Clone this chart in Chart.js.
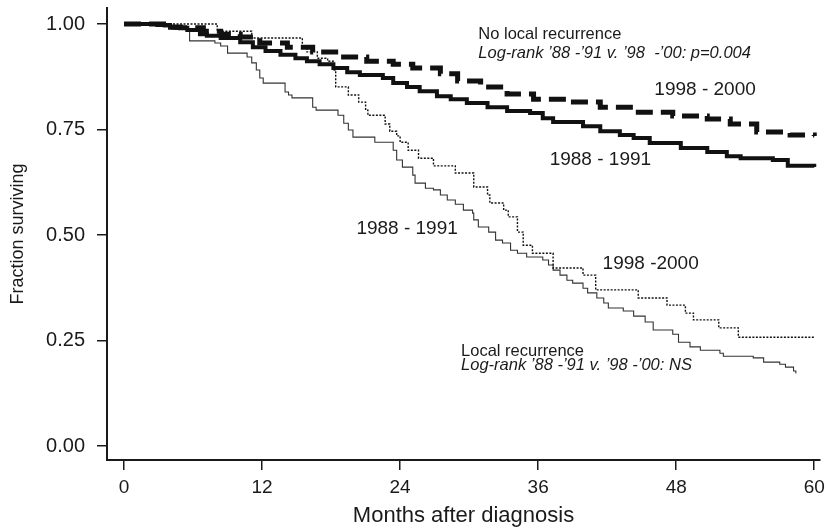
<!DOCTYPE html>
<html>
<head>
<meta charset="utf-8">
<script src="https://cdn.jsdelivr.net/npm/chart.js@4/dist/chart.umd.min.js"></script>
<style>
  html, body { margin: 0; padding: 0; background: #fff; }
  #wrap { width: 826px; height: 529px; }
</style>
</head>
<body>
<div id="wrap"><canvas id="km" width="826" height="529"></canvas></div>
<script>
// Kaplan-Meier survival estimates: month of each step and survival after it.
const noLr9800Months = [0, 3.7, 4.9, 6.9, 8.4, 10.1, 11.8, 14.2, 16.4, 18.8, 21.1, 23.4, 25.1, 27.5, 29.0, 31.0, 33.3, 35.6, 38.5, 41.4, 44.3, 47.7, 50.7, 52.7, 55.0, 57.9, 60.0];
const noLr9800Surv   = [1.000, 0.993, 0.991, 0.983, 0.976, 0.969, 0.955, 0.945, 0.934, 0.922, 0.912, 0.905, 0.896, 0.882, 0.865, 0.851, 0.834, 0.822, 0.815, 0.803, 0.791, 0.782, 0.775, 0.763, 0.744, 0.737, 0.735];

const noLr8891Months = [0, 2.9, 4.0, 5.5, 6.6, 7.2, 8.4, 10.1, 11.2, 12.3, 13.6, 14.9, 15.9, 17.0, 18.2, 19.4, 20.5, 22.5, 23.4, 24.6, 25.7, 27.2, 28.4, 29.8, 31.6, 33.3, 35.3, 36.4, 37.3, 39.9, 41.4, 43.1, 44.3, 45.7, 48.4, 50.7, 52.4, 53.6, 56.4, 57.7, 60.0];
const noLr8891Surv   = [1.000, 0.998, 0.991, 0.986, 0.976, 0.972, 0.967, 0.957, 0.945, 0.936, 0.927, 0.919, 0.912, 0.905, 0.896, 0.886, 0.879, 0.872, 0.860, 0.851, 0.841, 0.829, 0.822, 0.813, 0.803, 0.794, 0.789, 0.777, 0.768, 0.758, 0.746, 0.737, 0.730, 0.718, 0.706, 0.697, 0.687, 0.682, 0.678, 0.664, 0.661];

const lr9800Months = [0, 8.1, 11.1, 15.5, 15.9, 16.8, 17.7, 18.2, 18.4, 19.5, 20.4, 21.0, 21.2, 22.7, 23.1, 23.7, 24.0, 24.7, 25.6, 26.9, 28.8, 30.4, 31.6, 31.8, 33.0, 33.4, 34.2, 34.7, 35.5, 37.3, 39.9, 41.0, 44.7, 47.2, 48.8, 49.5, 51.7, 53.4, 60.0];
const lr9800Surv   = [1.000, 0.983, 0.967, 0.945, 0.934, 0.919, 0.912, 0.891, 0.851, 0.832, 0.815, 0.796, 0.784, 0.763, 0.746, 0.735, 0.720, 0.701, 0.682, 0.664, 0.647, 0.614, 0.595, 0.576, 0.559, 0.543, 0.507, 0.476, 0.457, 0.422, 0.405, 0.370, 0.351, 0.334, 0.315, 0.299, 0.280, 0.258, 0.258];

const lr8891Months = [0, 3.4, 4.4, 5.7, 7.9, 8.4, 9.0, 10.7, 11.1, 11.5, 11.8, 12.1, 14.0, 14.3, 14.6, 16.4, 16.7, 18.6, 19.1, 19.5, 19.9, 21.8, 23.4, 23.7, 24.2, 25.1, 25.3, 26.2, 26.9, 27.5, 28.1, 28.8, 29.5, 30.3, 30.4, 30.8, 31.7, 32.3, 32.9, 33.6, 34.2, 35.0, 36.4, 36.9, 37.3, 37.9, 38.5, 39.0, 39.9, 40.3, 41.1, 41.7, 42.1, 43.4, 44.3, 45.3, 46.0, 47.7, 48.2, 49.2, 50.1, 51.8, 52.1, 54.7, 55.6, 57.0, 57.5, 58.2, 58.4];
const lr8891Surv   = [1.000, 0.993, 0.988, 0.960, 0.955, 0.948, 0.931, 0.922, 0.908, 0.891, 0.872, 0.860, 0.839, 0.832, 0.825, 0.803, 0.796, 0.784, 0.765, 0.749, 0.732, 0.720, 0.701, 0.678, 0.661, 0.642, 0.623, 0.611, 0.607, 0.595, 0.583, 0.573, 0.559, 0.552, 0.536, 0.519, 0.507, 0.488, 0.481, 0.464, 0.457, 0.448, 0.441, 0.429, 0.417, 0.405, 0.393, 0.386, 0.374, 0.363, 0.351, 0.339, 0.327, 0.320, 0.308, 0.294, 0.275, 0.265, 0.246, 0.235, 0.227, 0.220, 0.213, 0.209, 0.199, 0.194, 0.187, 0.178, 0.172];

// Axis ticks
const monthTicks = [0, 12, 24, 36, 48, 60];
const survTicks = [0, 0.25, 0.5, 0.75, 1];

// Text drawn inside the plot, anchored in data units (month, survival)
const noteTexts  = ['No local recurrence', 'Log-rank \u201988 -\u201991 v. \u201998  -\u201900: p=0.004', '1998 - 2000', '1988 - 1991', '1988 - 1991', '1998 -2000', 'Local recurrence', 'Log-rank \u201988 -\u201991 v. \u201998 -\u201900: NS'];
const noteMonths = [30.8, 30.8, 46.1, 37.0, 20.2, 41.6, 29.3, 29.3];
const noteSurv   = [0.976, 0.931, 0.844, 0.678, 0.514, 0.431, 0.225, 0.190];
const noteStyle  = ['normal', 'italic', 'normal', 'normal', 'normal', 'normal', 'normal', 'italic'];
const noteSize   = [16.5, 16.5, 19, 19, 19, 19, 16.5, 16.5];

const FONT = "'Liberation Sans', Arial, Helvetica, sans-serif";
const INK = '#1a1a1a';

function toXY(xs, ys) { return xs.map((x, i) => ({ x: x, y: ys[i] })); }

const notesPlugin = {
  id: 'notes',
  afterDatasetsDraw(chart) {
    const ctx = chart.ctx, sx = chart.scales.x, sy = chart.scales.y;
    ctx.save();
    ctx.fillStyle = INK;
    ctx.textAlign = 'left';
    ctx.textBaseline = 'middle';
    noteTexts.forEach((t, i) => {
      ctx.font = noteStyle[i] + ' ' + noteSize[i] + 'px ' + FONT;
      ctx.fillText(t, sx.getPixelForValue(noteMonths[i]), sy.getPixelForValue(noteSurv[i]));
    });
    ctx.restore();
  }
};

// Keep the plot frame fixed: no extra room reserved for overhanging tick labels
function noLabelPadding(s) {
  s.paddingTop = 0; s.paddingBottom = 0; s.paddingLeft = 0; s.paddingRight = 0;
}

const common = { stepped: 'before', pointRadius: 0, fill: false, tension: 0 };

new Chart(document.getElementById('km'), {
  type: 'line',
  data: {
    datasets: [
      Object.assign({ label: 'No local recurrence 1998 - 2000', data: toXY(noLr9800Months, noLr9800Surv),
        borderColor: '#111', borderWidth: 5, borderDash: [17, 8], borderCapStyle: 'butt' }, common),
      Object.assign({ label: 'No local recurrence 1988 - 1991', data: toXY(noLr8891Months, noLr8891Surv),
        borderColor: '#111', borderWidth: 4 }, common),
      Object.assign({ label: 'Local recurrence 1998 - 2000', data: toXY(lr9800Months, lr9800Surv),
        borderColor: '#111', borderWidth: 1.4, borderDash: [2, 1.5] }, common),
      Object.assign({ label: 'Local recurrence 1988 - 1991', data: toXY(lr8891Months, lr8891Surv),
        borderColor: '#333', borderWidth: 1.1 }, common)
    ]
  },
  options: {
    responsive: false,
    animation: false,
    events: [],
    layout: { padding: { left: 0, top: 8, right: 6, bottom: 0 } },
    plugins: { legend: { display: false }, tooltip: { enabled: false } },
    scales: {
      x: {
        type: 'linear', min: -1.48, max: 60.5,
        afterBuildTicks: s => { s.ticks = monthTicks.map(v => ({ value: v })); },
        afterFit: s => { s.height = 69; noLabelPadding(s); },
        ticks: { color: INK, font: { family: FONT, size: 19 }, padding: 6, maxRotation: 0, autoSkip: false },
        grid: { drawOnChartArea: false, drawTicks: true, tickLength: 10, color: INK, lineWidth: 1.5 },
        border: { display: true, color: INK, width: 2 },
        title: { display: true, text: 'Months after diagnosis', color: INK, font: { family: FONT, size: 22 }, padding: { top: 0, bottom: 0 } }
      },
      y: {
        type: 'linear', min: -0.033, max: 1.038,
        afterBuildTicks: s => { s.ticks = survTicks.map(v => ({ value: v })); },
        afterFit: s => { s.width = 107; noLabelPadding(s); },
        ticks: { color: INK, font: { family: FONT, size: 20 }, padding: 12, autoSkip: false,
          callback: v => Number(v).toFixed(2) },
        grid: { drawOnChartArea: false, drawTicks: true, tickLength: 10, color: INK, lineWidth: 1.5 },
        border: { display: true, color: INK, width: 2 },
        title: { display: true, text: 'Fraction surviving', color: INK, font: { family: FONT, size: 18 }, padding: { top: 7, bottom: 0 } }
      }
    }
  },
  plugins: [notesPlugin]
});
</script>
</body>
</html>
